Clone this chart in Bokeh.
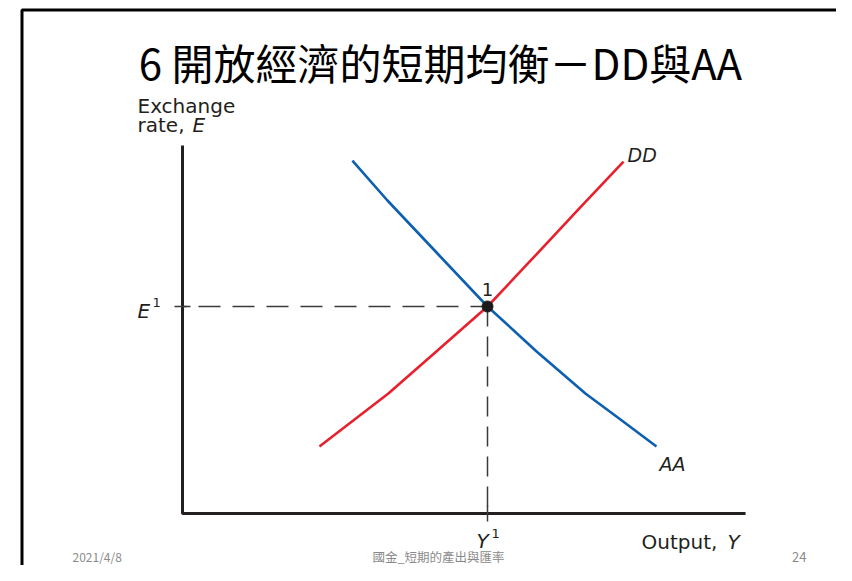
from bokeh.plotting import figure
from bokeh.models import Range1d
from bokeh.core.properties import value
from bokeh.embed import file_html
from bokeh.resources import INLINE

# ---- data (model units: output Y on x, exchange rate E on y) ----
aa_y = [5.57, 6.72, 8.36, 10.0, 11.61, 13.21, 14.36, 15.54]
aa_e = [17.05, 15.12, 12.56, 10.0, 7.83, 5.80, 4.54, 3.24]
dd_y = [4.49, 6.75, 8.36, 10.0, 11.48, 12.95, 14.46]
dd_e = [3.24, 5.80, 7.87, 10.0, 12.32, 14.64, 17.00]
eq_y = [10.0]
eq_e = [10.0]
axis_top = 17.78
axis_right = 18.46

title_text = "6 開放經濟的短期均衡－DD與AA"
footer_date = "2021/4/8"
footer_mid = "國金_短期的產出與匯率"
footer_page = "24"

# ---- layout helpers (canvas pixel -> model units) ----
OX, OY, SX, SY = 182.0, 513.0, 30.5, 20.7
def X(px):
    return (px - OX) / SX
def Y(py):
    return (OY - py) / SY

W, H = 836, 565
p = figure(width=W, height=H, output_backend="svg", toolbar_location=None,
           x_range=Range1d(X(0), X(W)), y_range=Range1d(Y(H), Y(0)),
           min_border=0, min_border_left=0, min_border_right=0,
           min_border_top=0, min_border_bottom=0)
p.axis.visible = False
p.grid.visible = False
p.outline_line_color = None
p.background_fill_color = "white"
p.border_fill_color = "white"

# slide frame
p.line([X(21.5), X(21.5), X(W + 20)], [Y(H + 20), Y(9.5), Y(9.5)],
       line_color="black", line_width=3)

# title
p.text([X(440)], [Y(61)], text=[title_text], text_font=value("Noto Sans CJK TC"),
       text_font_size="42px", text_align="center", text_baseline="middle",
       text_color="black")

# axes
axc = "#231f20"
p.line([0, 0, axis_right], [axis_top, 0, 0], line_color=axc, line_width=3)

# guide dashes
dc = "#3a3a3a"
p.line([0, eq_y[0]], [eq_e[0], eq_e[0]], line_color=dc, line_width=1.5, line_dash="22 12",
       line_dash_offset=-16)
p.line([eq_y[0], eq_y[0]], [eq_e[0], 0], line_color=dc, line_width=1.5, line_dash="20 10")
# small ticks
p.segment(x0=[X(174)], y0=[eq_e[0]], x1=[X(190)], y1=[eq_e[0]], line_color=dc, line_width=1.5)
p.segment(x0=[eq_y[0]], y0=[Y(505)], x1=[eq_y[0]], y1=[Y(521)], line_color=dc, line_width=1.5)

# curves
p.line(dd_y, dd_e, line_color="#e8202e", line_width=2.6)
p.line(aa_y, aa_e, line_color="#0d5fb0", line_width=2.6)
p.scatter(eq_y, eq_e, size=11, color="#1a1a1a")

lf = value("DejaVu Sans")
tc = "#231f20"
def lab(px, py, s, size="20px", style="normal", align="left", color=tc, font=lf):
    p.text([X(px)], [Y(py)], text=[s], text_font=font, text_font_size=size,
           text_font_style=style, text_align=align, text_baseline="middle",
           text_color=color)

lab(137, 105, "Exchange")
lab(137, 124, "rate, ")
lab(192, 124, "E", style="italic")
lab(137, 310, "E", style="italic")
lab(152, 302, "1", size="13px")
lab(487, 289, "1", size="18px", align="center")
lab(476, 540, "Y", style="italic")
lab(491, 533, "1", size="13px")
lab(641, 541, "Output, ")
lab(727, 541, "Y", style="italic")
lab(627, 154, "DD", style="italic", size="19px")
lab(659, 463, "AA", style="italic", size="19px")

ff = value("Noto Sans CJK TC")
lab(72, 556, footer_date, size="12px", color="#8a8a8a", font=ff)
lab(438, 556, footer_mid, size="12.5px", align="center", color="#8a8a8a", font=ff)
lab(806, 556, footer_page, size="13px", align="right", color="#8a8a8a", font=ff)

open("out.html", "w").write(file_html(p, INLINE))
